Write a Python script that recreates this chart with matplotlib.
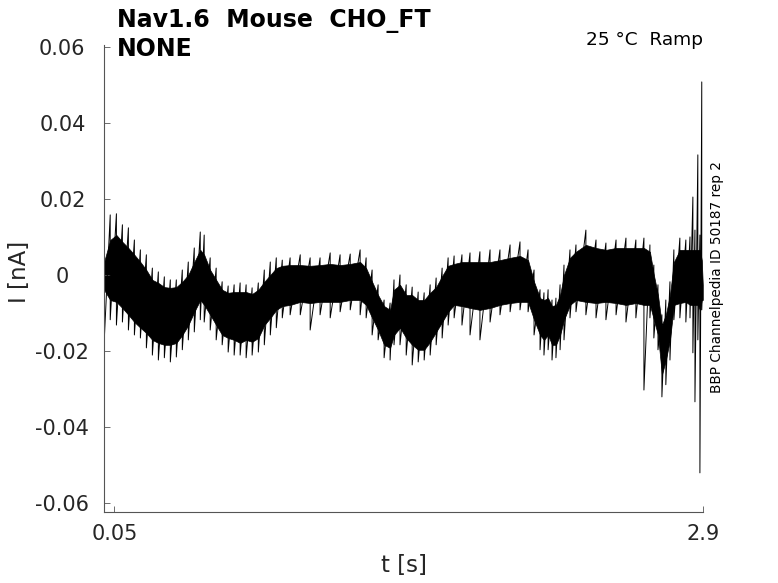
import matplotlib
matplotlib.use('Agg')
import matplotlib.pyplot as plt
import numpy as np

plt.rcParams['axes.unicode_minus'] = False

# envelope of the recorded trace, read off the reference picture
# t [s], outer spike tips, edges of the solid band, [pA]
t = [0.000, 0.030, 0.060, 0.089, 0.118, 0.147, 0.176, 0.205, 0.234, 0.263,
     0.292, 0.321, 0.350, 0.379, 0.408, 0.437, 0.466, 0.485, 0.514, 0.543,
     0.572, 0.601, 0.630, 0.659, 0.688, 0.717, 0.747, 0.776, 0.805, 0.834,
     0.863, 0.901, 0.950, 0.998, 1.046, 1.095, 1.143, 1.192, 1.240, 1.269,
     1.298, 1.327, 1.356, 1.385, 1.404, 1.433, 1.463, 1.492, 1.521, 1.550,
     1.579, 1.608, 1.637, 1.666, 1.695, 1.733, 1.772, 1.820, 1.869, 1.917,
     1.966, 2.014, 2.053, 2.082, 2.111, 2.130, 2.150, 2.169, 2.188, 2.208,
     2.227, 2.256, 2.285, 2.333, 2.382, 2.430, 2.479, 2.527, 2.575, 2.614,
     2.643, 2.662, 2.682, 2.701, 2.720, 2.740, 2.759, 2.788, 2.817, 2.837,
     2.851, 2.861, 2.875, 2.885, 2.894, 2.899]

spike_hi = [6.6, 15.8, 16.1, 13.2, 12.4, 9.2, 6.6, 5.3, 1.8, 0.8,
            -0.5, -1.3, -1.3, 1.3, 3.4, 7.1, 11.3, 10.5, 4.5, 1.8,
            -1.8, -2.9, -2.6, -2.1, -2.6, -3.4, -2.1, 1.3, 3.4, 4.5,
            3.9, 4.5, 5.3, 4.5, 4.5, 5.8, 5.3, 5.5, 6.6, 4.5,
            1.3, -2.6, -6.6, -7.4, -1.3, 0.0, -2.6, -3.2, -4.5, -4.7,
            -2.6, -0.8, 1.8, 4.5, 5.0, 5.3, 5.8, 6.1, 6.6, 6.6,
            7.9, 8.7, 6.6, 1.3, -3.9, -4.7, -3.9, -6.6, -6.1, -2.6,
            2.6, 6.6, 7.9, 11.8, 9.2, 8.4, 9.2, 9.7, 9.2, 9.7,
            7.9, 2.6, -2.6, -10.5, -6.6, -1.8, 6.6, 9.7, 9.2, 10.0,
            20.5, 11.8, 31.6, 10.5, 50.8, -1.3]

core_hi = [3.4, 9.2, 10.5, 8.7, 7.1, 5.3, 3.4, 1.3, -1.3, -2.1,
           -3.2, -3.4, -3.2, -1.8, 0.0, 3.4, 6.6, 5.3, 1.3, -1.3,
           -3.9, -4.7, -4.5, -4.5, -4.5, -5.0, -3.9, -1.8, 0.0, 1.8,
           2.4, 2.6, 2.6, 2.4, 2.6, 2.9, 2.6, 2.9, 3.4, 1.8,
           -1.8, -5.3, -8.2, -9.2, -3.9, -2.6, -5.3, -5.3, -6.6, -6.6,
           -4.7, -3.2, -0.3, 2.4, 2.9, 3.4, 3.4, 3.4, 3.4, 3.9,
           4.5, 5.0, 3.9, -1.8, -6.1, -6.6, -6.1, -8.2, -7.9, -5.3,
           0.0, 4.5, 6.1, 7.9, 7.1, 6.6, 7.1, 7.1, 7.1, 7.1,
           6.1, 0.0, -5.3, -13.2, -10.5, -5.3, 3.4, 6.6, 6.6, 6.6,
           6.6, 6.6, 6.6, 6.6, 3.9, -2.6]

core_lo = [-3.9, -6.6, -7.1, -8.7, -10.5, -12.4, -13.9, -15.3, -17.1, -17.9,
           -18.4, -18.4, -17.9, -15.8, -13.2, -9.7, -6.6, -7.9, -10.5, -13.2,
           -15.8, -16.6, -17.1, -17.9, -17.1, -17.6, -16.6, -13.2, -11.3, -9.2,
           -8.2, -7.9, -7.1, -7.4, -7.1, -7.1, -7.1, -6.6, -6.6, -7.9,
           -11.3, -14.5, -18.4, -19.2, -15.8, -13.9, -16.6, -18.4, -19.7, -19.7,
           -17.6, -15.0, -12.4, -9.7, -7.9, -8.2, -8.7, -9.2, -8.7, -7.9,
           -7.4, -7.1, -7.1, -11.8, -15.8, -17.1, -15.8, -18.4, -18.4, -15.8,
           -11.8, -7.9, -6.6, -7.1, -7.4, -7.1, -7.4, -7.9, -7.4, -7.9,
           -7.9, -11.8, -15.8, -26.3, -22.4, -17.1, -7.9, -7.4, -7.1, -7.9,
           -7.9, -7.9, -7.9, -9.2, -6.6, -6.6]

spike_lo = [-18.4, -11.8, -13.2, -12.4, -14.5, -15.8, -16.6, -19.2, -21.1, -22.4,
            -21.8, -22.9, -21.6, -19.7, -17.1, -15.0, -11.8, -12.4, -14.5, -17.1,
            -18.4, -20.3, -21.1, -21.1, -21.8, -21.1, -20.3, -18.4, -15.8, -13.9,
            -11.3, -10.5, -10.5, -14.5, -10.5, -11.3, -9.7, -9.2, -10.5, -11.3,
            -15.8, -17.1, -21.8, -22.4, -18.4, -18.4, -21.1, -23.7, -22.9, -22.4,
            -21.1, -18.4, -16.6, -13.2, -11.3, -13.2, -15.8, -17.1, -12.4, -10.5,
            -9.7, -9.2, -9.7, -15.8, -19.7, -21.1, -19.7, -22.4, -21.8, -19.7,
            -17.1, -11.3, -9.7, -10.5, -11.3, -11.8, -10.5, -12.4, -11.3, -30.3,
            -11.3, -16.6, -19.7, -32.1, -28.9, -22.4, -11.8, -11.3, -12.4, -11.3,
            -20.5, -33.4, -17.1, -52.1, -9.2, -6.6]

xticks = [0.05, 2.9]
xtick_labels = ['0.05', '2.9']
yticks = [-0.06, -0.04, -0.02, 0, 0.02, 0.04, 0.06]
ytick_labels = ['-0.06', '-0.04', '-0.02', '0', '0.02', '0.04', '0.06']

# pA -> nA
t = np.array(t)
spike_hi = np.array(spike_hi) / 1000
spike_lo = np.array(spike_lo) / 1000
core_hi = np.array(core_hi) / 1000
core_lo = np.array(core_lo) / 1000

fig = plt.figure(figsize=(7.78, 5.83), dpi=100)
ax = fig.add_axes([0.1337, 0.1218, 0.7699, 0.8009])

ax.fill_between(t, core_lo, core_hi, color='black', lw=0.5, edgecolor='black')
# min/max trace: up and down at every sample
tt = np.repeat(t, 2)
yy = np.column_stack([spike_hi, spike_lo]).ravel()
ax.plot(tt, yy, color='black', lw=0.7)

ax.set_xlim(0, 2.9)
ax.set_ylim(-0.0624, 0.0605)

for s in ['top', 'right']:
    ax.spines[s].set_visible(False)
for s in ['left', 'bottom']:
    ax.spines[s].set_color('#555555')
    ax.spines[s].set_linewidth(0.8)

ax.tick_params(direction='in', length=4, width=0.6, color='#555555',
               labelsize=15, labelcolor='#262626')
ax.tick_params(axis='x', pad=9)
ax.tick_params(axis='y', pad=30)
ax.set_xticks(xticks)
ax.set_xticklabels(xtick_labels)
ax.set_yticks(yticks)
ax.set_yticklabels(ytick_labels)
for lab in ax.get_yticklabels():
    lab.set_horizontalalignment('center')

ax.set_xlabel('t [s]', fontsize=16.5, color='#262626')
ax.xaxis.set_label_coords(0.5, -0.09)
ax.set_ylabel('I [nA]', fontsize=16.5, color='#262626')
ax.yaxis.set_label_coords(-0.122, 0.514)

fig.text(0.1504, 0.9537, 'Nav1.6  Mouse  CHO_FT', fontsize=17,
         fontweight='bold', va='baseline')
fig.text(0.1504, 0.904, 'NONE', fontsize=17, fontweight='bold', va='baseline')
fig.text(0.9036, 0.922, '25 °C  Ramp', fontsize=13.3, ha='right', va='baseline')
fig.text(0.9216, 0.525, 'BBP Channelpedia ID 50187 rep 2', fontsize=9.8,
         rotation=90, ha='center', va='center')

fig.savefig('out.png', dpi=100)
